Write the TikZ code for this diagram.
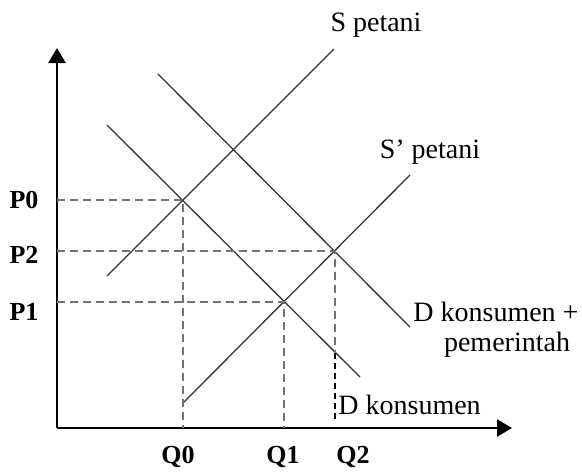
\documentclass[tikz,border=0pt]{standalone}
\usepackage{fontspec}
\setmainfont{Liberation Serif}
\usetikzlibrary{arrows.meta,positioning,calc}
\begin{document}
\begin{tikzpicture}[x=0.5pt,y=-0.5pt,
  axisline/.style={line width=1.2pt,-{Triangle[width=8.5pt,length=7.5pt]}},
  curve/.style={line width=0.65pt,draw=black!80},
  guide/.style={draw=black!55,line width=0.7pt,dash pattern=on 4pt off 2.5pt},
  guidedark/.style={draw=black,line width=0.6pt,dash pattern=on 3pt off 2pt},
  ticklbl/.style={font=\fontsize{13}{15}\selectfont\bfseries,inner sep=0pt},
  curvelbl/.style={font=\fontsize{14}{16}\selectfont,inner sep=0pt},
]
  \useasboundingbox (0,0) rectangle (582,473);

  %% axes
  \coordinate (O) at (57,428);
  \coordinate (ytop) at (57,48);
  \coordinate (xend) at (512,428);
  \draw[axisline] (O) -- (ytop);
  \draw[axisline] (O) -- (xend);

  %% supply and demand
  \coordinate (S0) at (107,276);  \coordinate (S1) at (334,49);
  \coordinate (Sp0) at (184,402); \coordinate (Sp1) at (410,175);
  \coordinate (D0) at (107,125);  \coordinate (D1) at (360,377);
  \coordinate (Dp0) at (158,74);  \coordinate (Dp1) at (410,327);
  \draw[curve] (S0) -- (S1);
  \draw[curve] (Sp0) -- (Sp1);
  \draw[curve] (D0) -- (D1);
  \draw[curve] (Dp0) -- (Dp1);

  %% equilibria
  \coordinate (E0) at (183,200);
  \coordinate (E1) at (284,302);
  \coordinate (E2) at (335,251);
  \coordinate (X2) at (335,353);
  \foreach \e in {E0,E1}{%
    \draw[guide] (O |- \e) -- (\e) -- (\e |- O);}
  \draw[guide] (O |- E2) -- (E2) -- (X2);
  \draw[guidedark] (X2) -- ($(E2 |- O)+(0,-8)$);

  %% axis labels
  \node[ticklbl](P0) at (24,200) {P0};
  \node[ticklbl](P2) at (24,255) {P2};
  \node[ticklbl](P1) at (24,312) {P1};
  \node[ticklbl](Q0) at (178,457) {Q0};
  \node[ticklbl](Q1) at (283,457) {Q1};
  \node[ticklbl](Q2) at (353,457) {Q2};

  %% curve labels
  \node[curvelbl](Slbl) at (376,25) {S petani};
  \node[curvelbl](Splbl) at (430,152) {S’ petani};
  \node[curvelbl,anchor=west](Dplbl) at (413,312) {D konsumen +};
  \node[curvelbl](Dplbl2) at (507,345) {pemerintah};
  \node[curvelbl,anchor=west](Dlbl) at (338,405) {D konsumen};
\end{tikzpicture}
\end{document}
